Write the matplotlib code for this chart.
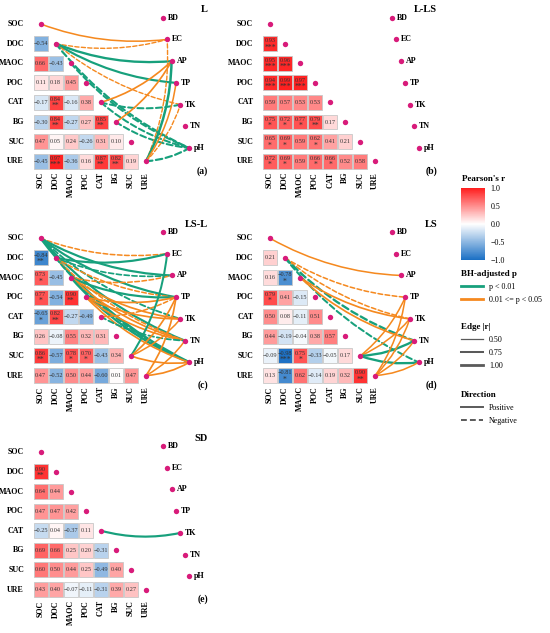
import numpy as np
import matplotlib
matplotlib.use("Agg")
import matplotlib.pyplot as plt
from matplotlib.patches import Rectangle, FancyArrowPatch
from matplotlib.colors import LinearSegmentedColormap, Normalize
from matplotlib.cm import ScalarMappable
from matplotlib.lines import Line2D

plt.rcParams['font.family'] = ['Liberation Serif', 'DejaVu Serif']

# ---------------- data ----------------
soil_vars = ["SOC", "DOC", "MAOC", "POC", "CAT", "BG", "SUC", "URE"]
env_vars = ["BD", "EC", "AP", "TP", "TK", "TN", "pH"]

# lower triangle: row i (DOC..URE) has values vs SOC..(i-1)
r_L = [[-0.54], [0.66, -0.43], [0.11, 0.18, 0.45], [-0.17, 0.84, -0.16, 0.38],
       [-0.30, 0.84, -0.27, 0.27, 0.85], [0.47, 0.05, 0.24, -0.26, 0.31, 0.10],
       [-0.45, 0.97, -0.36, 0.16, 0.87, 0.82, 0.19]]
s_L = [[""], ["", ""], ["", "", ""], ["", "**", "", ""], ["", "**", "", "", "**"],
       ["", "", "", "", "", ""], ["", "***", "", "", "**", "**", ""]]

r_LLS = [[0.93], [0.95, 0.96], [0.94, 0.99, 0.97], [0.59, 0.57, 0.53, 0.53],
         [0.75, 0.72, 0.77, 0.79, 0.17], [0.65, 0.69, 0.59, 0.62, 0.41, 0.21],
         [0.72, 0.69, 0.59, 0.66, 0.66, 0.52, 0.58]]
s_LLS = [["***"], ["***", "***"], ["***", "***", "***"], ["", "", "", ""],
         ["*", "*", "*", "**", ""], ["*", "*", "", "*", "", ""],
         ["*", "*", "", "*", "*", "", ""]]

r_LSL = [[-0.84], [0.73, -0.45], [0.77, -0.54, 0.90], [-0.65, 0.82, -0.27, -0.49],
         [0.26, -0.08, 0.55, 0.32, 0.31], [0.86, -0.57, 0.78, 0.70, -0.43, 0.34],
         [0.47, -0.52, 0.50, 0.44, -0.60, 0.01, 0.47]]
s_LSL = [["**"], ["*", ""], ["*", "", "**"], ["*", "**", "", ""],
         ["", "", "", "", ""], ["**", "", "*", "*", "", ""],
         ["", "", "", "", "", "", ""]]

r_LS = [[0.21], [0.16, -0.78], [0.79, 0.41, -0.15], [0.50, 0.08, -0.11, 0.51],
        [0.44, -0.19, -0.04, 0.38, 0.57], [-0.09, -0.98, 0.75, -0.33, -0.05, 0.17],
        [0.13, -0.81, 0.62, -0.14, 0.19, 0.32, 0.90]]
s_LS = [[""], ["", "*"], ["*", "", ""], ["", "", "", ""], ["", "", "", "", ""],
        ["", "***", "*", "", "", ""], ["", "*", "", "", "", "", "**"]]

r_SD = [[0.90], [0.64, 0.44], [0.47, 0.47, 0.42], [-0.25, 0.04, -0.37, 0.11],
        [0.69, 0.66, 0.25, 0.20, -0.31], [0.60, 0.50, 0.44, 0.25, -0.49, 0.40],
        [0.43, 0.40, -0.07, -0.11, -0.31, 0.39, 0.27]]
s_SD = [["**"], ["", ""], ["", "", ""], ["", "", "", ""], ["", "", "", "", ""],
        ["", "", "", "", "", ""], ["", "", "", "", "", "", ""]]

# Mantel-type links: (soil var, env var, |r|, p class, sign)
# p class: "a" = p < 0.01, "b" = 0.01 <= p < 0.05
edges_L = [("SOC", "EC", 0.60, "b", "+"), ("DOC", "EC", 0.55, "b", "-"),
           ("DOC", "AP", 0.85, "a", "+"), ("DOC", "TP", 0.80, "a", "+"),
           ("DOC", "TK", 0.55, "b", "-"), ("DOC", "pH", 0.80, "a", "-"),
           ("MAOC", "pH", 0.75, "a", "-"), ("CAT", "AP", 0.65, "b", "+"),
           ("CAT", "TK", 0.75, "a", "-"), ("CAT", "pH", 0.75, "a", "-"),
           ("BG", "AP", 0.65, "b", "+"), ("BG", "pH", 0.75, "a", "-"),
           ("URE", "EC", 0.55, "b", "-"), ("URE", "AP", 0.90, "a", "+"),
           ("URE", "TP", 0.60, "b", "+"), ("URE", "TK", 0.55, "b", "-"),
           ("URE", "pH", 0.80, "a", "-")]
edges_LLS = []
edges_LSL = [("SOC", "EC", 0.60, "b", "-"), ("SOC", "AP", 0.80, "a", "+"),
             ("SOC", "TP", 0.80, "a", "+"), ("SOC", "TK", 0.70, "a", "-"),
             ("SOC", "TN", 0.80, "a", "+"), ("SOC", "pH", 0.90, "a", "+"),
             ("DOC", "EC", 0.80, "a", "+"), ("DOC", "AP", 0.65, "a", "-"),
             ("DOC", "TP", 0.60, "b", "-"), ("DOC", "TN", 0.60, "b", "-"),
             ("DOC", "pH", 0.70, "a", "-"), ("MAOC", "AP", 0.60, "b", "-"),
             ("MAOC", "TP", 0.80, "a", "+"), ("MAOC", "TK", 0.65, "b", "+"),
             ("MAOC", "TN", 0.65, "b", "+"), ("MAOC", "pH", 0.85, "a", "+"),
             ("POC", "TP", 0.65, "b", "+"), ("POC", "TK", 0.65, "b", "+"),
             ("POC", "TN", 0.65, "b", "+"), ("POC", "pH", 0.65, "b", "+"),
             ("CAT", "TP", 0.60, "b", "-"), ("CAT", "TN", 0.70, "a", "-"),
             ("SUC", "EC", 0.75, "a", "+"), ("SUC", "TP", 0.65, "b", "+"),
             ("SUC", "TK", 0.60, "b", "+"), ("SUC", "pH", 0.65, "b", "+"),
             ("URE", "TP", 0.65, "b", "+"), ("URE", "TN", 0.60, "b", "+"),
             ("URE", "pH", 0.65, "b", "+")]
edges_LS = [("SOC", "AP", 0.60, "b", "+"), ("DOC", "TP", 0.60, "b", "-"),
            ("DOC", "TK", 0.60, "b", "-"), ("DOC", "TN", 0.85, "a", "-"),
            ("DOC", "pH", 0.75, "a", "-"), ("MAOC", "TK", 0.65, "b", "+"),
            ("MAOC", "TN", 0.65, "b", "+"), ("SUC", "TP", 0.60, "b", "+"),
            ("SUC", "TK", 0.60, "b", "+"), ("SUC", "TN", 0.85, "a", "+"),
            ("SUC", "pH", 0.85, "a", "+"), ("URE", "TP", 0.60, "b", "+"),
            ("URE", "TK", 0.60, "b", "+"), ("URE", "TN", 0.60, "b", "+"),
            ("URE", "pH", 0.60, "b", "+")]
edges_SD = [("CAT", "TK", 0.80, "a", "+")]

panel_titles = ["L", "L-LS", "LS-L", "LS", "SD"]
panel_tags = ["(a)", "(b)", "(c)", "(d)", "(e)"]

# ---------------- style ----------------
W, H = 550, 633
fig = plt.figure(figsize=(W / 100, H / 100), dpi=100)
CW, RH = 15.04, 19.6  # px per column / row
cmap = LinearSegmentedColormap.from_list(
    "rb", [(0.0, "#1a6fc4"), (0.5, "#ffffff"), (1.0, "#ff1e1e")])
norm = Normalize(-1, 1)
GREEN, ORANGE = "#17a07c", "#f5891f"
DOT = "#d81b7a"
p_colors = {"a": GREEN, "b": ORANGE}
TXT = "#333333"
RAD = 0.12


def lw_of(r):
    return 0.9 + 2.2 * (r - 0.5)


layout = [((40.7, 24.0), (0, 0, 245, 215)),
          ((270.0, 24.0), (245, 0, 450, 215)),
          ((40.7, 238.3), (0, 215, 245, 425)),
          ((270.0, 238.3), (245, 215, 450, 425)),
          ((40.7, 452.3), (0, 425, 245, 633))]
r_all = [r_L, r_LLS, r_LSL, r_LS, r_SD]
s_all = [s_L, s_LLS, s_LSL, s_LS, s_SD]
e_all = [edges_L, edges_LLS, edges_LSL, edges_LS, edges_SD]

NX0, NXS, NY0, NYS = 8.11, 0.295, -0.32, 1.108
node_x = {v: NX0 + NXS * k for k, v in enumerate(env_vars)}
node_y = {v: NY0 + NYS * k for k, v in enumerate(env_vars)}
idx = {v: i for i, v in enumerate(soil_vars)}

for p in range(5):
    (ox, oy), (l, t, rr, b) = layout[p]
    ax = fig.add_axes([l / W, 1 - b / H, (rr - l) / W, (b - t) / H])
    ax.set_xlim((l - ox) / CW, (rr - ox) / CW)
    ax.set_ylim((b - oy) / RH, (t - oy) / RH)
    ax.axis("off")

    # tiles
    for i, row in enumerate(r_all[p]):
        yi = i + 1
        for j, val in enumerate(row):
            ax.add_patch(Rectangle((j - 0.465, yi - 0.38), 0.93, 0.76,
                                   facecolor=cmap(norm(val)), edgecolor="#c8c8c8",
                                   lw=0.6, zorder=1))
            st = s_all[p][i][j]
            lab = f"{val:.2f}".replace("-", "\u2212")
            if st:
                ax.text(j, yi - 0.14, lab, ha="center", va="center",
                        fontsize=4.5, color=TXT, zorder=2)
                ax.text(j, yi + 0.2, st, ha="center", va="center",
                        fontsize=5.5, color=TXT, zorder=2)
            else:
                ax.text(j, yi, lab, ha="center", va="center",
                        fontsize=4.5, color=TXT, zorder=2)

    # labels
    for i, v in enumerate(soil_vars):
        ax.text(-1.11, i, v, ha="right", va="center", fontsize=5.8,
                fontweight="bold")
        ax.text(i, 7.55, v, ha="center", va="top", rotation=90,
                fontsize=5.8, fontweight="bold")

    # links
    for (sv, ev, rv, pc, sg) in e_all[p]:
        k = idx[sv]
        patch = FancyArrowPatch((k, k), (node_x[ev], node_y[ev]),
                                arrowstyle="-", connectionstyle=f"arc3,rad={RAD}",
                                color=p_colors[pc], lw=lw_of(rv),
                                linestyle="-" if sg == "+" else (0, (3, 1.6)),
                                shrinkA=0, shrinkB=0, zorder=3)
        ax.add_patch(patch)

    # diagonal points and env nodes
    ax.scatter(range(len(soil_vars)), range(len(soil_vars)), s=15, color=DOT,
               zorder=4, linewidths=0)
    ax.scatter([node_x[v] for v in env_vars], [node_y[v] for v in env_vars],
               s=15, color=DOT, zorder=4, linewidths=0)
    for v in env_vars:
        ax.text(node_x[v] + 0.33, node_y[v], v, ha="left", va="center",
                fontsize=5.8, fontweight="bold")

    ax.text(11.12, -0.72, panel_titles[p], ha="right", va="center",
            fontsize=7.5, fontweight="bold")
    ax.text(11.12, 7.5, panel_tags[p], ha="right", va="center",
            fontsize=7, fontweight="bold")

# ---------------- legends ----------------
fig.text(462 / W, 1 - 179 / H, "Pearson's r", ha="left", va="center",
         fontsize=6.5, fontweight="bold")
cax = fig.add_axes([461 / W, 1 - 260 / H, 24 / W, 72 / H])
cb = fig.colorbar(ScalarMappable(norm=norm, cmap=cmap), cax=cax,
                  ticks=[-1, -0.5, 0, 0.5, 1])
cb.outline.set_visible(False)
cax.tick_params(length=0, labelsize=5.8, pad=4)
cax.set_yticklabels(["\u22121.0", "\u22120.5", "0.0", "0.5", "1.0"])

common = dict(loc="upper left", frameon=False, fontsize=5.8, borderpad=0,
              borderaxespad=0, handlelength=2.7, handletextpad=0.8,
              labelspacing=0.6, alignment="left",
              title_fontproperties={"weight": "bold", "size": 6.5})

h1 = [Line2D([], [], color=GREEN, lw=2.0), Line2D([], [], color=ORANGE, lw=2.0)]
fig.legend(h1, ["p < 0.01", "0.01 <= p < 0.05"], title="BH-adjusted p",
           bbox_to_anchor=(461 / W, 1 - 270 / H), **common)

h2 = [Line2D([], [], color="#5a5a5a", lw=lw_of(v)) for v in (0.5, 0.75, 1.0)]
fig.legend(h2, ["0.50", "0.75", "1.00"], title="Edge |r|",
           bbox_to_anchor=(461 / W, 1 - 323 / H), **common)

h3 = [Line2D([], [], color="#5a5a5a", lw=1.4),
      Line2D([], [], color="#5a5a5a", lw=1.4, linestyle=(0, (3, 1.6)))]
fig.legend(h3, ["Positive", "Negative"], title="Direction",
           bbox_to_anchor=(461 / W, 1 - 391 / H), **common)

fig.savefig("out.png", dpi=100)
